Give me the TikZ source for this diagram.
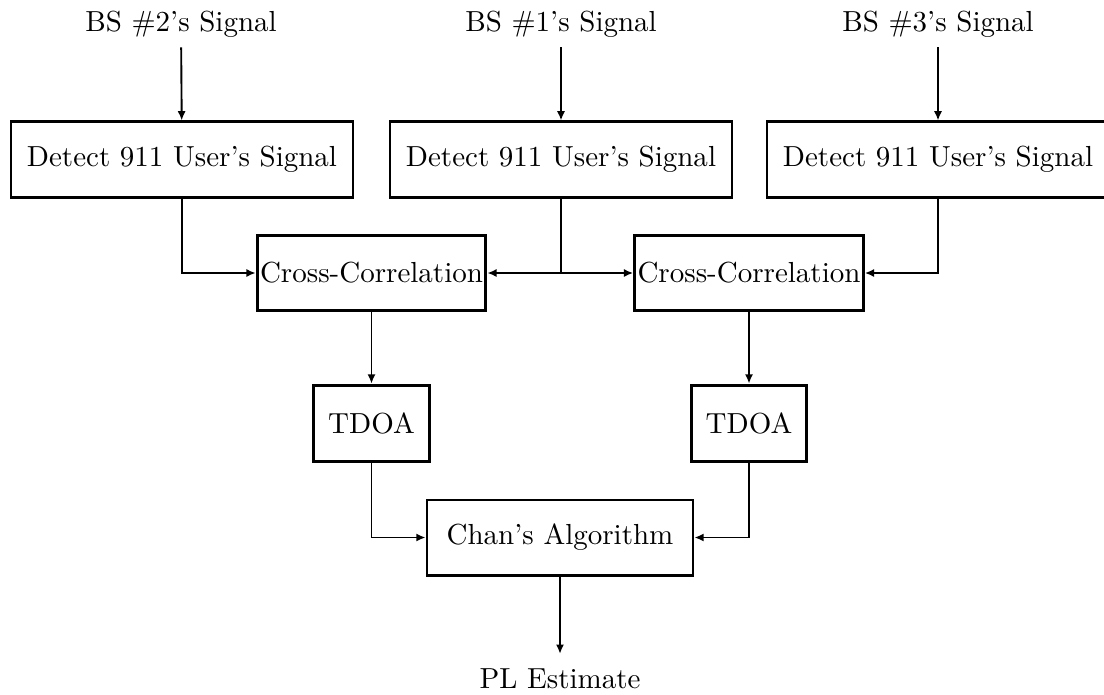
\documentclass[tikz,border=0pt]{standalone}
\usetikzlibrary{arrows.meta}

\tikzset{
  blk/.style={draw, line width=1pt, inner xsep=1pt, minimum height=25.9pt, align=center},
  detectbox/.style={blk, minimum width=117.9pt},
  corrbox/.style={blk, minimum width=78.6pt},
  tdoabox/.style={blk, minimum width=39.7pt, minimum height=26.5pt},
  chanbox/.style={blk, minimum width=91.7pt},
  lbl/.style={inner sep=3.33pt},
  flow/.style={line width=0.65pt, -{Latex[length=3.2pt,width=2.8pt]}},
  wire/.style={line width=0.65pt}
}

\begin{document}
\begin{tikzpicture}[x=0.3448pt, y=-0.3448pt]
  \useasboundingbox (0,0) rectangle (1104,694);
  \clip (0,0) rectangle (1104,694);

  % incoming base-station signals
  \node[lbl] (s2) at (181,24) {BS \#2's Signal};
  \node[lbl] (s1) at (561,24) {BS \#1's Signal};
  \node[lbl] (s3) at (938,24) {BS \#3's Signal};

  % detection stage
  \node[detectbox] (d2) at (182,159.5) {Detect 911 User's Signal};
  \node[detectbox] (d1) at (561,159.5) {Detect 911 User's Signal};
  \node[detectbox] (d3) at (938,159.5) {Detect 911 User's Signal};

  % correlation stage
  \node[corrbox] (c1) at (371.5,273) {Cross-Correlation};
  \node[corrbox] (c2) at (749,273) {Cross-Correlation};

  % time difference of arrival
  \node[tdoabox] (t1) at (371.5,423.5) {TDOA};
  \node[tdoabox] (t2) at (749,423.5) {TDOA};

  % position solver and output
  \node[chanbox] (ch) at (560,537.5) {Chan's Algorithm};
  \node[inner sep=5pt] (pl) at (560,679) {PL Estimate};

  \coordinate (j1) at (d1.south |- c1.east);

  \draw[flow] (s2) -- (d2);
  \draw[flow] (s1) -- (d1);
  \draw[flow] (s3) -- (d3);

  \draw[flow] (d2.south) |- (c1.west);
  \draw[wire] (d1.south) -- (j1);
  \draw[flow] (j1) -- (c1.east);
  \draw[flow] (j1) -- (c2.west);
  \draw[flow] (d3.south) |- (c2.east);

  \draw[flow] (c1.south) -- (t1.north);
  \draw[flow] (c2.south) -- (t2.north);

  \draw[flow] (t1.south) |- (ch.west);
  \draw[flow] (t2.south) |- (ch.east);

  \draw[flow] (ch.south) -- (pl.north);
\end{tikzpicture}
\end{document}
